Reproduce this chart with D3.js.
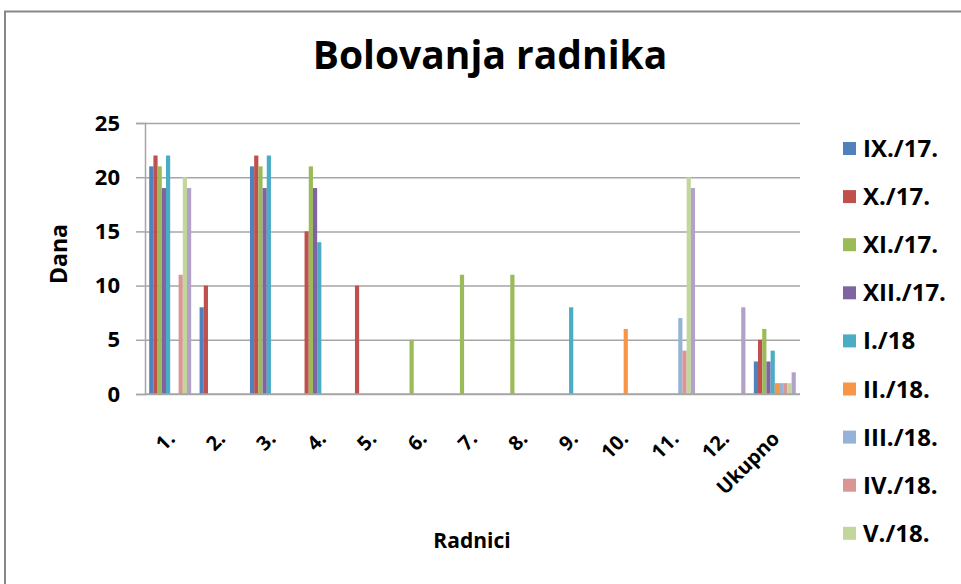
<!DOCTYPE html>
<html>
<head>
<meta charset="utf-8">
<script src="https://cdn.jsdelivr.net/npm/d3@7"></script>
<style>
  body { margin: 0; background: #fff; }
  svg { display: block; font-family: "Open Sans", sans-serif; font-weight: bold; }
</style>
</head>
<body>
<div id="chart"></div>
<script>
// categories (workers) and monthly series
const categories = ['1.', '2.', '3.', '4.', '5.', '6.', '7.', '8.', '9.', '10.', '11.', '12.', 'Ukupno'];
const seriesNames = ['IX./17.', 'X./17.', 'XI./17.', 'XII./17.', 'I./18', 'II./18.', 'III./18.', 'IV./18.', 'V./18.', 'VI./18.'];
const seriesColors = ['#4f81bd', '#c0504d', '#9bbb59', '#8064a2', '#4bacc6', '#f79646', '#95b3d7', '#d99694', '#c3d69b', '#b3a2c7'];

const sep17 = [21, 8, 21, 0, 0, 0, 0, 0, 0, 0, 0, 0, 3];
const oct17 = [22, 10, 22, 15, 10, 0, 0, 0, 0, 0, 0, 0, 5];
const nov17 = [21, 0, 21, 21, 0, 5, 11, 11, 0, 0, 0, 0, 6];
const dec17 = [19, 0, 19, 19, 0, 0, 0, 0, 0, 0, 0, 0, 3];
const jan18 = [22, 0, 22, 14, 0, 0, 0, 0, 8, 0, 0, 0, 4];
const feb18 = [0, 0, 0, 0, 0, 0, 0, 0, 0, 6, 0, 0, 1];
const mar18 = [0, 0, 0, 0, 0, 0, 0, 0, 0, 0, 7, 0, 1];
const apr18 = [11, 0, 0, 0, 0, 0, 0, 0, 0, 0, 4, 0, 1];
const may18 = [20, 0, 0, 0, 0, 0, 0, 0, 0, 0, 20, 0, 1];
const jun18 = [19, 0, 0, 0, 0, 0, 0, 0, 0, 0, 19, 8, 2];
const seriesValues = [sep17, oct17, nov17, dec17, jan18, feb18, mar18, apr18, may18, jun18];

const yTicks = [0, 5, 10, 15, 20, 25];

const width = 961, height = 584;
const plot = { left: 145, right: 800, top: 123, bottom: 394 };

const svg = d3.select('#chart').append('svg')
  .attr('width', width)
  .attr('height', height);

// chart frame (right and bottom edges fall outside the picture)
svg.append('rect')
  .attr('x', 5).attr('y', 11.5)
  .attr('width', 1000).attr('height', 700)
  .attr('fill', '#fff')
  .attr('stroke', '#888').attr('stroke-width', 2);

const x = d3.scaleBand()
  .domain(categories)
  .range([plot.left, plot.right])
  .paddingInner(1 / 6)
  .paddingOuter(1 / 12);

const xInner = d3.scaleBand()
  .domain(d3.range(seriesNames.length))
  .range([0, x.bandwidth()]);

const y = d3.scaleLinear().domain([0, 25]).range([plot.bottom, plot.top]);

// gridlines
svg.append('g')
  .attr('transform', `translate(${plot.left},0)`)
  .call(d3.axisLeft(y).tickValues(yTicks).tickSize(-(plot.right - plot.left)).tickFormat(''))
  .call(g => g.select('.domain').remove())
  .call(g => g.selectAll('line').attr('stroke', '#a6a6a6').attr('stroke-width', 1.5));

// bars
seriesValues.forEach((vals, s) => {
  svg.append('g')
    .selectAll('rect')
    .data(vals)
    .join('rect')
    .attr('x', (d, i) => x(categories[i]) + xInner(s))
    .attr('y', d => y(d))
    .attr('width', xInner.bandwidth())
    .attr('height', d => y(0) - y(d))
    .attr('fill', seriesColors[s]);
});

// y axis
const yAxis = svg.append('g')
  .attr('transform', `translate(${plot.left},0)`)
  .call(d3.axisLeft(y).tickValues(yTicks).tickSize(9).tickPadding(16));
yAxis.select('.domain').attr('stroke', '#a6a6a6').attr('stroke-width', 1.5);
yAxis.selectAll('line').attr('stroke', '#a6a6a6').attr('stroke-width', 1.5);
yAxis.selectAll('text')
  .attr('fill', '#000')
  .style('font-size', '22px')
  .style('font-family', '"Open Sans", sans-serif')
  .style('font-weight', 'bold');

// x axis
svg.append('line')
  .attr('x1', plot.left).attr('x2', plot.right)
  .attr('y1', y(0)).attr('y2', y(0))
  .attr('stroke', '#a6a6a6').attr('stroke-width', 1.5);

svg.append('g')
  .selectAll('text')
  .data(categories)
  .join('text')
  .attr('transform', d => `translate(${x(d) + x.bandwidth() / 2 + 6},440) rotate(-45)`)
  .attr('text-anchor', 'end')
  .style('font-size', '20px')
  .text(d => d);

// titles
svg.append('text')
  .attr('x', 490).attr('y', 69)
  .attr('text-anchor', 'middle')
  .style('font-size', '39px')
  .text('Bolovanja radnika');

svg.append('text')
  .attr('transform', 'translate(67,254) rotate(-90)')
  .attr('text-anchor', 'middle')
  .style('font-size', '23px')
  .text('Dana');

svg.append('text')
  .attr('x', 472).attr('y', 548)
  .attr('text-anchor', 'middle')
  .style('font-size', '21px')
  .text('Radnici');

// legend (entries that do not fit in the frame are dropped)
const legendTop = 149, legendStep = 48.1;
const legendItems = seriesNames
  .map((name, i) => ({ name, color: seriesColors[i], cy: legendTop + i * legendStep }))
  .filter(d => d.cy + 8 < height - 10);

const legend = svg.append('g')
  .selectAll('g')
  .data(legendItems)
  .join('g')
  .attr('transform', d => `translate(843,${d.cy})`);

legend.append('rect')
  .attr('x', 0).attr('y', -7)
  .attr('width', 13).attr('height', 13)
  .attr('fill', d => d.color);

legend.append('text')
  .attr('x', 20).attr('y', 8)
  .style('font-size', '24px')
  .text(d => d.name);
</script>
</body>
</html>
